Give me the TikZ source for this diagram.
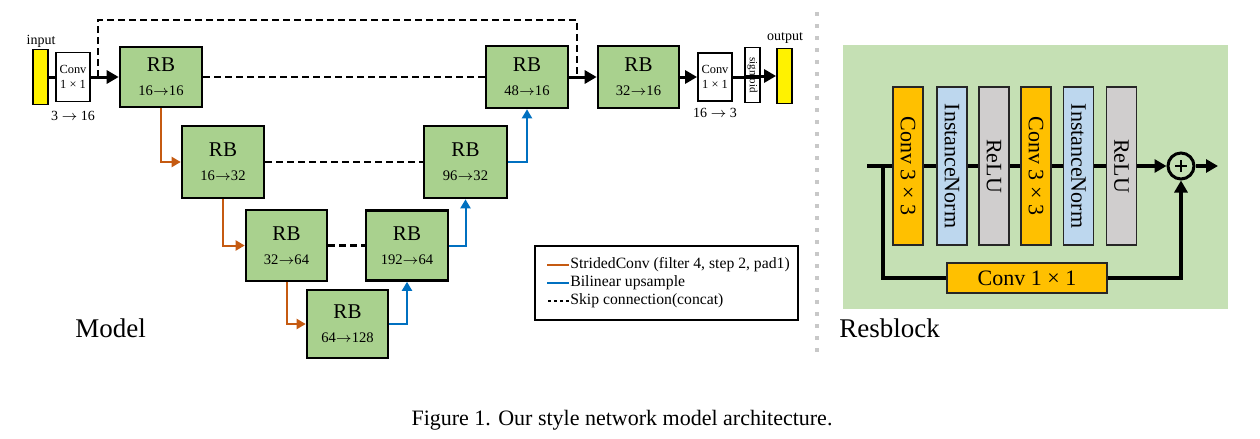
\documentclass[tikz,border=0pt]{standalone}
\usepackage{fontspec}
\setmainfont{Liberation Serif}
\usetikzlibrary{arrows.meta}
\definecolor{rbgreen}{HTML}{A9D18E}
\definecolor{bggreen}{HTML}{C5E0B4}
\definecolor{convor}{HTML}{FFC000}
\definecolor{inblue}{HTML}{BDD7EE}
\definecolor{relugray}{HTML}{D0CECE}
\definecolor{downor}{HTML}{C55A11}
\definecolor{upblue}{HTML}{0070C0}
\definecolor{sepgray}{HTML}{C8C8C8}
\newcommand\rbnum{\fontsize{7.3}{9}\selectfont}
\newcommand\myarr{$\rightarrow$}
\begin{document}
\begin{tikzpicture}[x=0.5pt,y=-0.5pt,
  rbbox/.style={draw, line width=1.3pt, fill=rbgreen, align=center, inner sep=0pt, font=\fontsize{10.5}{12}\selectfont},
  smallbox/.style={draw, line width=0.9pt, fill=white, align=center, inner sep=0pt, font=\fontsize{6.2}{7.5}\selectfont},
  barbox/.style={draw, line width=0.9pt, fill=yellow, inner sep=0pt, minimum width=7.5pt, minimum height=27.5pt},
  lab/.style={inner sep=0pt, font=\fontsize{7}{8}\selectfont},
  mainline/.style={line width=1.5pt},
  mainarr/.style={line width=1.5pt, -{Triangle[length=6pt,width=6.5pt]}},
  skipline/.style={line width=1.3pt, dash pattern=on 3.5pt off 2pt},
  downarr/.style={draw=downor, line width=1pt, -{Triangle[length=4.5pt,width=5pt]}},
  uparr/.style={draw=upblue, line width=1pt, -{Triangle[length=4.5pt,width=5pt]}},
  rblk/.style={draw=black!85, line width=0.8pt, rotate=-90, minimum width=79pt, minimum height=15pt, inner sep=0pt, font=\fontsize{11}{13}\selectfont},
  resline/.style={line width=1.6pt},
  resarr/.style={line width=1.6pt, -{Triangle[length=6pt,width=6.5pt]}},
  legtext/.style={anchor=west, inner sep=0pt, font=\fontsize{7.85}{9}\selectfont}
]
\useasboundingbox (0,0) rectangle (1260,439);

% ---------- Model ----------
\node[barbox] (inbar) at (40.5,77) {};
\node[smallbox, minimum width=17pt, minimum height=24.5pt] (conv1) at (73,77) {Conv\\1 × 1};
\node[rbbox, minimum width=41pt, minimum height=30pt] (rb1) at (161,77) {RB\\\rbnum 16\myarr16};
\node[rbbox, minimum width=41pt, minimum height=36pt] (rb2) at (223,162) {RB\\\rbnum 16\myarr32};
\node[rbbox, minimum width=40.5pt, minimum height=35.5pt] (rb3) at (286.5,245.5) {RB\\\rbnum 32\myarr64};
\node[rbbox, minimum width=40.5pt, minimum height=34pt] (rb4) at (347.5,324) {RB\\\rbnum 64\myarr128};
\node[rbbox, minimum width=41pt, minimum height=35pt] (rb192) at (407,245.5) {RB\\\rbnum 192\myarr64};
\node[rbbox, minimum width=41.5pt, minimum height=36pt] (rb96) at (465.5,162) {RB\\\rbnum 96\myarr32};
\node[rbbox, minimum width=41pt, minimum height=31pt] (rb48) at (527,77) {RB\\\rbnum 48\myarr16};
\node[rbbox, minimum width=40.5pt, minimum height=31pt] (rb3216) at (638.5,77) {RB\\\rbnum 32\myarr16};
\node[smallbox, minimum width=17pt, minimum height=24pt] (conv2) at (715,77) {Conv\\1 × 1};
\node[smallbox, rotate=-90, minimum width=27.5pt, minimum height=7.5pt, font=\fontsize{5.5}{6}\selectfont] (sig) at (752.5,75) {sigmoid};
\node[barbox] (outbar) at (784.5,76) {};

\node[lab] (inlab) at (41,41) {input};
\node[lab] (outlab) at (785,38) {output};
\node[lab] (c1lab) at (73,116) {3 \myarr\ 16};
\node[lab] (c2lab) at (715,113) {16 \myarr\ 3};

\draw[mainline] (inbar) -- (conv1);
\draw[mainarr] (conv1) -- (rb1);
\draw[mainarr] (rb48) -- (rb3216);
\draw[mainarr] (rb3216) -- (conv2);
\draw[mainline] (conv2.east) -- (conv2.east -| sig.north);
\draw[mainarr] (sig.south |- outbar.west) -- (outbar.west);

\coordinate (s1) at (98,77);
\coordinate (s2) at (577,77);
\draw[skipline] (s1) -- ++(0,-57) -| (s2);
\draw[skipline] (rb1) -- (rb48);
\draw[skipline] (rb2) -- (rb96);
\draw[skipline] (rb3) -- (rb192);

\draw[downarr] (rb1.south) |- (rb2.west);
\draw[downarr] (rb2.south) |- (rb3.west);
\draw[downarr] (rb3.south) |- (rb4.west);
\draw[uparr] (rb4.east) -| (rb192.south);
\draw[uparr] (rb192.east) -| (rb96.south);
\draw[uparr] (rb96.east) -| (rb48.south);

% legend
\node[draw, line width=0.8pt, minimum width=131.5pt, minimum height=37pt, inner sep=0pt] (legend) at (666.5,283) {};
\coordinate (l1a) at (547,265); \coordinate (l1b) at (569,265);
\coordinate (l2a) at (547,283); \coordinate (l2b) at (569,283);
\coordinate (l3a) at (548,301); \coordinate (l3b) at (569,301);
\draw[draw=downor, line width=1pt] (l1a) -- (l1b);
\draw[draw=upblue, line width=1pt] (l2a) -- (l2b);
\draw[line width=1.2pt, dash pattern=on 1.5pt off 1.5pt] (l3a) -- (l3b);
\node[legtext] (t1) at ([xshift=0.5pt]l1b) {StridedConv (filter 4, step 2, pad1)};
\node[legtext] (t2) at ([xshift=0.5pt]l2b) {Bilinear upsample};
\node[legtext] (t3) at ([xshift=0.5pt]l3b) {Skip connection(concat)};

\node[anchor=base west, inner sep=0pt, font=\fontsize{13.5}{16}\selectfont] (model) at (75,337) {Model};

% separator
\coordinate (sepa) at (817,12);
\coordinate (sepb) at (817,356);
\draw[draw=sepgray, line width=2pt, dash pattern=on 2pt off 4pt] (sepa) -- (sepb);

% ---------- Resblock ----------
\node[fill=bggreen, minimum width=192.5pt, minimum height=132pt, inner sep=0pt] (bg) at (1035.5,177) {};
\node[draw, line width=1.5pt, circle, minimum size=13pt, inner sep=0pt] (add) at (1181,166) {};
\draw[line width=1.3pt] ([xshift=-3pt]add.center) -- ([xshift=3pt]add.center);
\draw[line width=1.3pt] ([yshift=-3pt]add.center) -- ([yshift=3pt]add.center);
\coordinate (rin) at (867,166);
\coordinate (rout) at (1218,166);
\coordinate (sk) at (883,166);
\draw[resarr] (rin) -- (add);
\draw[resarr] (add) -- (rout);
\node[draw=black!85, line width=0.8pt, fill=convor, minimum width=80pt, minimum height=15pt, inner sep=0pt, font=\fontsize{11}{13}\selectfont] (c11) at (1027,278) {Conv 1 × 1};
\draw[resline] (sk) |- (c11.west);
\draw[resarr] (c11.east) -| (add.south);

\node[rblk, fill=convor] (cva) at (908,166) {Conv 3 × 3};
\node[rblk, fill=inblue] (ina) at (952,166) {InstanceNorm};
\node[rblk, fill=relugray] (rla) at (994,166) {ReLU};
\node[rblk, fill=convor] (cvb) at (1036,166) {Conv 3 × 3};
\node[rblk, fill=inblue] (inb) at (1078.5,166) {InstanceNorm};
\node[rblk, fill=relugray] (rlb) at (1121.5,166) {ReLU};

\node[anchor=base west, inner sep=0pt, font=\fontsize{13.5}{16}\selectfont] (resb) at (839,337) {Resblock};

% caption
\node[anchor=base, inner sep=0pt, font=\fontsize{11}{13}\selectfont] (cap) at (622,425) {Figure 1. Our style network model architecture.};
\end{tikzpicture}
\end{document}
